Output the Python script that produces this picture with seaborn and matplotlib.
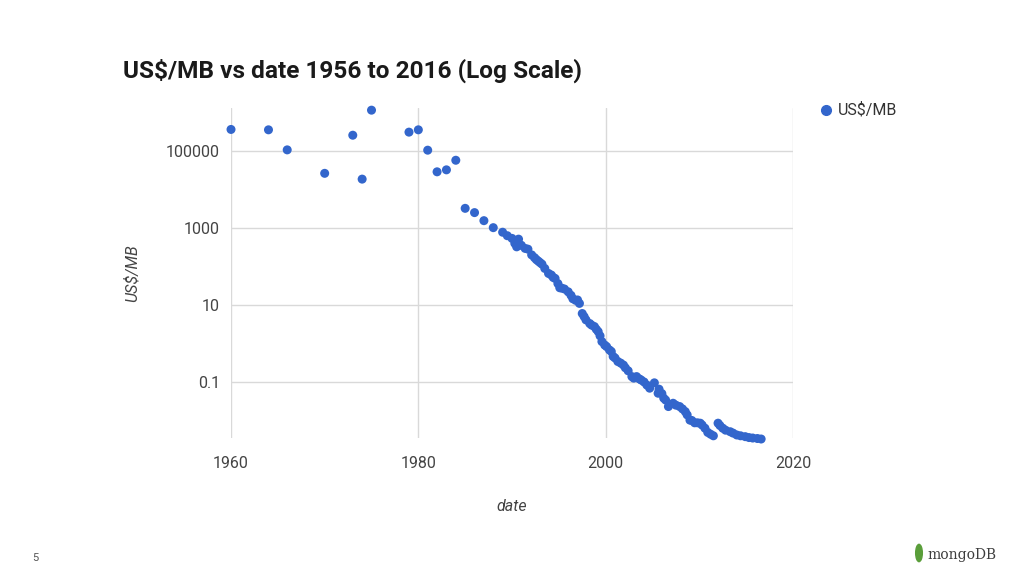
import matplotlib
matplotlib.use('Agg')
import matplotlib.pyplot as plt
import matplotlib.patches as mpatches
from matplotlib.lines import Line2D
import pandas as pd
import seaborn as sns

# values (year, US$ per MB)
years = [1960, 1964, 1966, 1970, 1973, 1974, 1975, 1979, 1980, 1981, 1982, 1983, 1984,
         1985, 1986, 1987, 1988,
         1989.0, 1989.5, 1990.0, 1990.3, 1990.5, 1990.7, 1990.8, 1991.0, 1991.4, 1991.7,
         1992.1, 1992.4, 1992.6, 1992.8, 1993.0, 1993.2, 1993.5, 1993.9, 1994.2, 1994.4,
         1994.6, 1994.9, 1995.1, 1995.3, 1995.6, 1996.0, 1996.3, 1996.5, 1996.8, 1997.0,
         1997.2, 1997.5, 1997.7, 1997.9, 1998.3, 1998.5, 1998.8, 1999.0, 1999.2, 1999.4,
         1999.6, 1999.9, 2000.1, 2000.4, 2000.6, 2000.8, 2001.0, 2001.3, 2001.6, 2001.9,
         2002.1, 2002.4, 2002.8, 2003.0, 2003.3, 2003.6, 2003.8, 2004.1, 2004.4, 2004.7,
         2005.2, 2005.6, 2005.7, 2006.0, 2006.2, 2006.4, 2006.7, 2007.2, 2007.5, 2007.9,
         2008.2, 2008.5, 2008.7, 2009.0, 2009.2, 2009.5, 2009.8, 2010.1, 2010.3, 2010.6,
         2010.9, 2011.2, 2011.5, 2012.0, 2012.2, 2012.5, 2012.8, 2013.3, 2013.6, 2014.0,
         2014.4, 2014.9, 2015.3, 2015.7, 2016.2, 2016.6]
usd_per_mb = [363000, 355000, 107000, 26300, 257000, 18600, 1150000, 309000, 355000,
              105000, 28800, 32400, 57500, 3240, 2510, 1550, 1020,
              776, 630, 537, 398, 324, 513, 363, 355, 295, 282,
              200, 170, 151, 138, 126, 115, 89, 66, 60, 52,
              49, 36, 28, 27.5, 26, 22, 17.8, 14.5, 13.2, 13.5,
              11, 6.0, 5.0, 4.1, 3.3, 3.0, 2.75, 2.34, 2.04, 1.58,
              1.12, 0.91, 0.83, 0.68, 0.62, 0.46, 0.42, 0.34, 0.31, 0.275,
              0.234, 0.195, 0.138, 0.126, 0.138, 0.12, 0.112, 0.1, 0.083, 0.069,
              0.095, 0.051, 0.065, 0.05, 0.038, 0.034, 0.023, 0.028, 0.025, 0.023,
              0.02, 0.017, 0.014, 0.0102, 0.01, 0.0087, 0.0087, 0.0085, 0.0076, 0.0063,
              0.0049, 0.0044, 0.0040, 0.0085, 0.0074, 0.0063, 0.0056, 0.0051, 0.0047, 0.0042,
              0.004, 0.0038, 0.0036, 0.0035, 0.0034, 0.0033]

x_ticks = [1960, 1980, 2000, 2020]
y_ticks = [0.1, 10, 1000, 100000]
y_tick_labels = ['0.1', '10', '1000', '100000']

df = pd.DataFrame({'date': years, 'US$/MB': usd_per_mb})

sns.set_style('white')
plt.rcParams['font.family'] = ['Roboto', 'DejaVu Sans']

fig = plt.figure(figsize=(10.24, 5.76), dpi=100)
ax = fig.add_axes([0.2256, 0.2396, 0.5488, 0.5729])

blue = '#3366cc'
sns.scatterplot(data=df, x='date', y='US$/MB', ax=ax, color=blue, s=42,
                edgecolor='none', legend=False, clip_on=False, zorder=3)

ax.set_yscale('log')
ax.set_xlim(1960, 2020)
ax.set_ylim(10 ** -2.455, 10 ** 6.117)
ax.set_xticks(x_ticks)
ax.set_xticklabels([str(t) for t in x_ticks])
ax.set_yticks(y_ticks)
ax.set_yticklabels(y_tick_labels)
ax.minorticks_off()
ax.grid(True, color='#d9d9d9', linewidth=1)
ax.set_axisbelow(True)
for s in ax.spines.values():
    s.set_visible(False)
ax.tick_params(axis='both', length=0, labelsize=11.5, colors='#444444')
ax.tick_params(axis='x', pad=13)
ax.tick_params(axis='y', pad=8)
ax.set_xlabel('date', fontsize=11.5, style='italic', color='#444444', labelpad=20)
ax.set_ylabel('US$/MB', fontsize=11.5, style='italic', color='#444444', labelpad=19)

fig.text(123 / 1024, 1 - 71 / 576, 'US$/MB vs date 1956 to 2016 (Log Scale)',
         fontsize=17.6, fontweight='bold', color='#1a1a1a', ha='left', va='center')

# legend
fig.add_artist(Line2D([826 / 1024], [1 - 110 / 576], marker='o', markersize=7,
                      color=blue, linestyle='none', transform=fig.transFigure))
fig.text(838 / 1024, 1 - 110 / 576, 'US$/MB', fontsize=11.5, color='#333333',
         ha='left', va='center')

# slide number and logo
fig.text(35 / 1024, 1 - 558 / 576, '5', fontsize=8, color='#555555',
         ha='center', va='center')
fig.add_artist(mpatches.Ellipse((919 / 1024, 1 - 553 / 576), 0.0065, 0.03,
                                transform=fig.transFigure, color='#5a9e3a'))
fig.text(927 / 1024, 1 - 555 / 576, 'mongoDB', fontsize=10,
         family=['DejaVu Serif'], color='#3d3d3d', ha='left', va='center')

fig.savefig('out.png', dpi=100)
